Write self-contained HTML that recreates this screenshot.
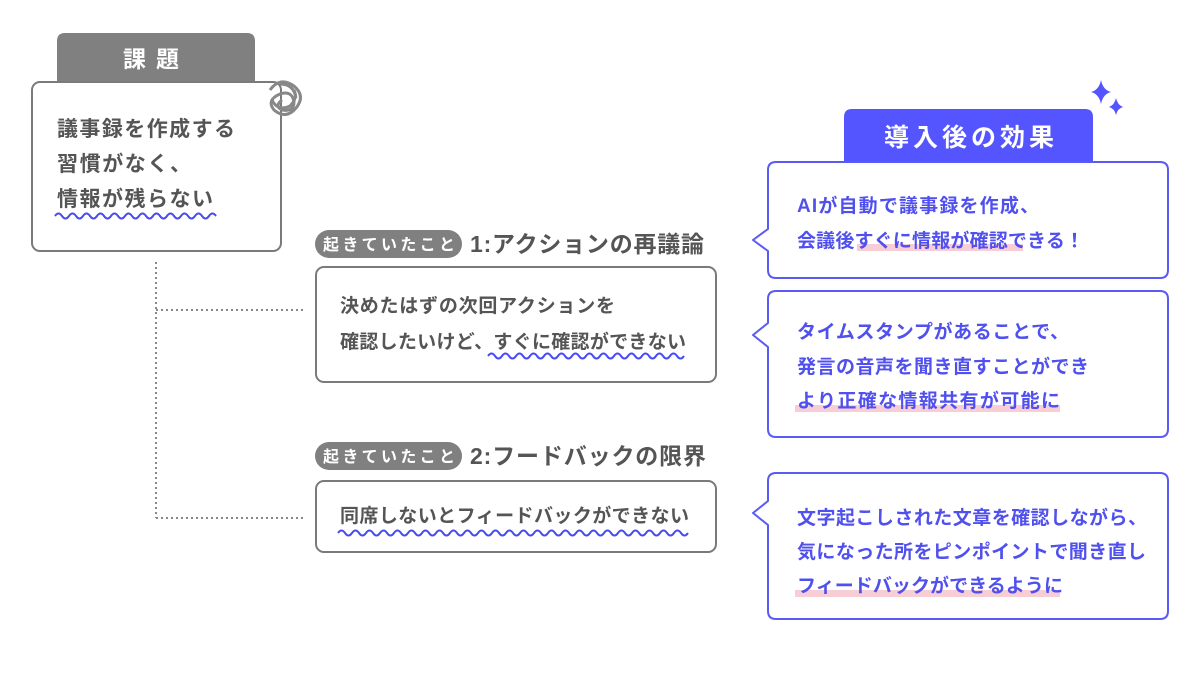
<!DOCTYPE html>
<html><head><meta charset="utf-8"><style>
html,body{margin:0;padding:0;background:#fff;}
svg text{font-family:"Liberation Sans","Noto Sans CJK JP",sans-serif;font-weight:bold;}
</style></head><body>
<svg width="1200" height="675" viewBox="0 0 1200 675" xmlns="http://www.w3.org/2000/svg">
<!-- 課題 -->
<path d="M57 82 V41 Q57 33 65 33 H247 Q255 33 255 41 V82 Z" fill="#808080"/>
<text x="156" y="67" text-anchor="middle" font-size="23" fill="#fff" letter-spacing="10">課題</text>
<rect x="32" y="82" width="249" height="169" rx="8" fill="#fff" stroke="#7a7a7a" stroke-width="2"/>
<g fill="none" stroke="#888" stroke-width="3">
<path d="M270 90 q10 -14 24 -4 q12 10 2 22 q-10 12 -22 2 q-8 -10 6 -16 q12 -4 14 8 q0 10 -12 8 q-8 -4 0 -10"/>
<path d="M272 100 q6 12 18 6 q8 -8 4 -16"/>
<path d="M280 84 q14 0 16 14"/>
</g>
<g font-size="21" fill="#555">
<text x="57" y="136" textLength="178" lengthAdjust="spacing">議事録を作成する</text>
<text x="57" y="171" textLength="134" lengthAdjust="spacing">習慣がなく、</text>
<text x="57" y="206" textLength="156" lengthAdjust="spacing">情報が残らない</text>
</g>
<!-- dotted connectors -->
<g stroke="#888" stroke-width="2" stroke-dasharray="2 3" fill="none">
<path d="M156 262 V518"/><path d="M156 310 H305"/><path d="M156 518 H305"/>
</g>
<!-- item 1 -->
<rect x="315" y="230" width="147" height="28" rx="14" fill="#808080"/>
<text x="323" y="250" font-size="16" fill="#fff" textLength="132" lengthAdjust="spacing">起きていたこと</text>
<text x="470" y="252" font-size="23" fill="#555" textLength="234" lengthAdjust="spacing">1:アクションの再議論</text>
<rect x="316" y="267" width="400" height="115" rx="8" fill="#fff" stroke="#7a7a7a" stroke-width="2"/>
<g font-size="19" fill="#555">
<text x="340" y="312" textLength="275" lengthAdjust="spacing">決めたはずの次回アクションを</text>
<text x="340" y="348" textLength="346" lengthAdjust="spacing">確認したいけど、すぐに確認ができない</text>
</g>
<!-- item 2 -->
<rect x="315" y="442" width="147" height="28" rx="14" fill="#808080"/>
<text x="323" y="462" font-size="16" fill="#fff" textLength="132" lengthAdjust="spacing">起きていたこと</text>
<text x="470" y="464" font-size="23" fill="#555" textLength="236" lengthAdjust="spacing">2:フードバックの限界</text>
<rect x="316" y="481" width="400" height="71" rx="8" fill="#fff" stroke="#7a7a7a" stroke-width="2"/>
<text x="340" y="522" font-size="19" fill="#555" textLength="349" lengthAdjust="spacing">同席しないとフィードバックができない</text>
<!-- waves -->
<g fill="none" stroke="#4a4af5" stroke-width="2">
<path d="M55 216 q3.5 -5 7 0 t7 0 t7 0 t7 0 t7 0 t7 0 t7 0 t7 0 t7 0 t7 0 t7 0 t7 0 t7 0 t7 0 t7 0 t7 0 t7 0 t7 0 t7 0 t7 0 t7 0 t7 0 t7 0"/>
<path d="M488 356 q3.5 -5 7 0 t7 0 t7 0 t7 0 t7 0 t7 0 t7 0 t7 0 t7 0 t7 0 t7 0 t7 0 t7 0 t7 0 t7 0 t7 0 t7 0 t7 0 t7 0 t7 0 t7 0 t7 0 t7 0 t7 0 t7 0 t7 0 t7 0 t7 0"/>
<path d="M338 533 q3.5 -5 7 0 t7 0 t7 0 t7 0 t7 0 t7 0 t7 0 t7 0 t7 0 t7 0 t7 0 t7 0 t7 0 t7 0 t7 0 t7 0 t7 0 t7 0 t7 0 t7 0 t7 0 t7 0 t7 0 t7 0 t7 0 t7 0 t7 0 t7 0 t7 0 t7 0 t7 0 t7 0 t7 0 t7 0 t7 0 t7 0 t7 0 t7 0 t7 0 t7 0 t7 0 t7 0 t7 0 t7 0 t7 0 t7 0 t7 0 t7 0 t7 0 t7 0"/>
</g>
<!-- right -->
<g fill="#5555ff">
<path d="M1101 80 q2 10 10 12 q-8 2 -10 12 q-2 -10 -10 -12 q8 -2 10 -12Z"/>
<path d="M1116 98 q1.5 7 7 9 q-5.5 1.5 -7 8 q-1.5 -6.5 -7 -8 q5.5 -2 7 -9Z"/>
</g>
<path d="M844 161 V117 Q844 109 852 109 H1085 Q1093 109 1093 117 V161 Z" fill="#5555ff"/>
<text x="884" y="146" font-size="25" fill="#fff" textLength="170" lengthAdjust="spacing">導入後の効果</text>
<g fill="#fff" stroke="#5a5af5" stroke-width="2" stroke-linejoin="round">
<path d="M776 162 H1160 Q1168 162 1168 170 V270 Q1168 278 1160 278 H776 Q768 278 768 270 V251 L753 240 L768 229 V170 Q768 162 776 162Z"/>
<path d="M776 291 H1160 Q1168 291 1168 299 V429 Q1168 437 1160 437 H776 Q768 437 768 429 V347 L753 335 L768 323 V299 Q768 291 776 291Z"/>
<path d="M776 473 H1160 Q1168 473 1168 481 V611 Q1168 619 1160 619 H776 Q768 619 768 611 V525 L753 513 L768 501 V481 Q768 473 776 473Z"/>
</g>
<g fill="#f7cdd6">
<rect x="857" y="244" width="166" height="7"/>
<rect x="795" y="405" width="265" height="7"/>
<rect x="795" y="590" width="265" height="7"/>
</g>
<g font-size="19" fill="#5050ee">
<text x="797" y="212" textLength="242" lengthAdjust="spacing">AIが自動で議事録を作成、</text>
<text x="797" y="247" textLength="287" lengthAdjust="spacing">会議後すぐに情報が確認できる！</text>
<text x="797" y="338" textLength="272" lengthAdjust="spacing">タイムスタンプがあることで、</text>
<text x="797" y="373" textLength="292" lengthAdjust="spacing">発言の音声を聞き直すことができ</text>
<text x="797" y="407" textLength="263" lengthAdjust="spacing">より正確な情報共有が可能に</text>
<text x="797" y="524" textLength="350" lengthAdjust="spacing">文字起こしされた文章を確認しながら、</text>
<text x="797" y="558" textLength="349" lengthAdjust="spacing">気になった所をピンポイントで聞き直し</text>
<text x="797" y="592" textLength="266" lengthAdjust="spacing">フィードバックができるように</text>
</g>
</svg>
</body></html>
